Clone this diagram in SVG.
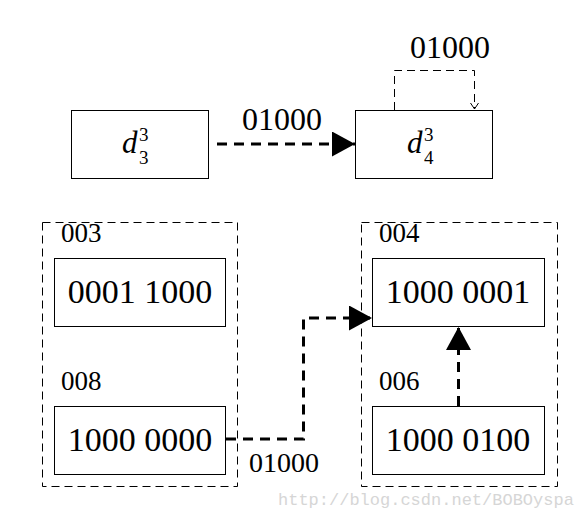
<svg xmlns="http://www.w3.org/2000/svg" width="580" height="518" viewBox="0 0 580 518">
<style>
.box{fill:#fff;stroke:#000;stroke-width:1}
.grp{fill:none;stroke:#000;stroke-width:1;stroke-dasharray:8 5}
.t{font-family:"Liberation Serif","DejaVu Serif",serif;fill:#000}
.thick{fill:none;stroke:#000;stroke-width:3;stroke-dasharray:10 7}
.thin{fill:none;stroke:#000;stroke-width:1;stroke-dasharray:8 5}
</style>
<defs>
<marker id="tri" markerUnits="userSpaceOnUse" markerWidth="24" markerHeight="26" refX="23" refY="12.5" orient="auto" viewBox="0 0 24 26">
<path d="M0,0 L23,12.5 L0,25 Z" fill="#000"/>
</marker>
<marker id="open" markerUnits="userSpaceOnUse" markerWidth="10" markerHeight="10" refX="7" refY="5" orient="auto" viewBox="0 0 10 10">
<path d="M1,1 L7,5 L1,9" fill="none" stroke="#000" stroke-width="1"/>
</marker>
</defs>
<rect width="580" height="518" fill="#fff"/>
<g id="group-left">
<rect class="grp" x="42.5" y="222.5" width="195" height="264"/>
<text class="t" x="61" y="242" font-size="27">003</text>
<text class="t" x="61" y="390" font-size="27">008</text>
</g>
<g id="group-right">
<rect class="grp" x="361.5" y="222.5" width="196" height="264"/>
<text class="t" x="379" y="242" font-size="27">004</text>
<text class="t" x="379" y="390" font-size="27">006</text>
</g>
<g id="n-d33">
<rect class="box" x="71.5" y="110.5" width="137" height="68"/>
<text class="t" x="122" y="153" font-size="31" font-style="italic">d</text>
<text class="t" x="139" y="141" font-size="19">3</text>
<text class="t" x="139" y="164" font-size="19">3</text>
</g>
<g id="n-d43">
<rect class="box" x="355.5" y="110.5" width="137" height="68"/>
<text class="t" x="407" y="153" font-size="31" font-style="italic">d</text>
<text class="t" x="424" y="141" font-size="19">3</text>
<text class="t" x="424" y="164" font-size="19">4</text>
</g>
<g id="n-003">
<rect class="box" x="54.5" y="258.5" width="171" height="68"/>
<text class="t" x="140" y="303" font-size="34" text-anchor="middle">0001 1000</text>
</g>
<g id="n-008">
<rect class="box" x="54.5" y="406.5" width="171" height="68"/>
<text class="t" x="140" y="451" font-size="34" text-anchor="middle">1000 0000</text>
</g>
<g id="n-004">
<rect class="box" x="372.5" y="258.5" width="172" height="68"/>
<text class="t" x="458" y="303" font-size="34" text-anchor="middle">1000 0001</text>
</g>
<g id="n-006">
<rect class="box" x="372.5" y="406.5" width="172" height="68"/>
<text class="t" x="458" y="451" font-size="34" text-anchor="middle">1000 0100</text>
</g>
<g id="connectors">
<path class="thick" d="M217,144 L355,144" marker-end="url(#tri)"/>
<text class="t" x="282" y="130" font-size="32" text-anchor="middle">01000</text>
<path class="thin" d="M394.5,110 L394.5,70.5 L474.5,70.5 L474.5,109" marker-end="url(#open)"/>
<text class="t" x="450" y="58" font-size="32" text-anchor="middle">01000</text>
<path class="thick" d="M226,439 L303.5,439 L303.5,318 L372,318" marker-end="url(#tri)"/>
<text class="t" x="284" y="472" font-size="28" text-anchor="middle">01000</text>
<path class="thick" d="M458.5,406 L458.5,327" marker-end="url(#tri)"/>
</g>
<text x="278" y="505" font-family="'Liberation Mono','DejaVu Sans Mono',monospace" font-size="17" fill="#d6d6d6">http://blog.csdn.net/BOBOyspa</text>
</svg>
